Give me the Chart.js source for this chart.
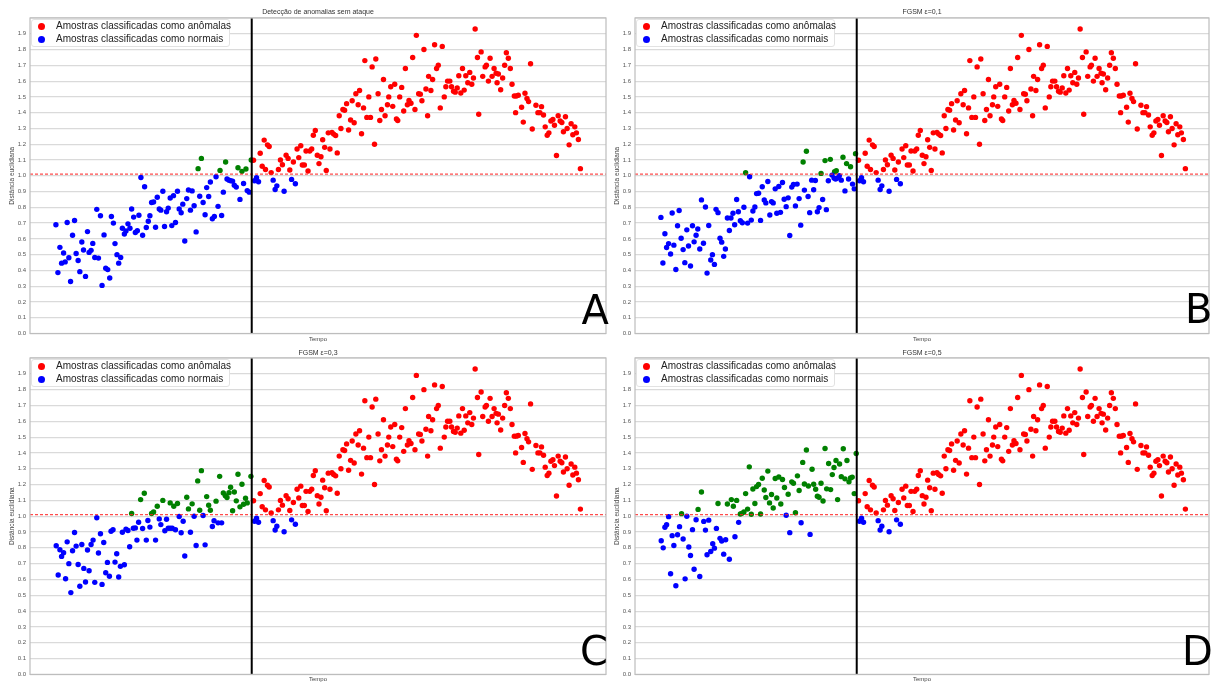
<!DOCTYPE html>
<html><head><meta charset="utf-8">
<script src="https://cdn.jsdelivr.net/npm/chart.js@4.4.1/dist/chart.umd.min.js"></script>
<style>
html,body{margin:0;padding:0;background:#fff;width:1213px;height:682px;overflow:hidden;}
canvas{position:absolute;}
.legend{position:absolute;background:#fff;border:1px solid #e2e2e2;border-radius:3px;box-sizing:border-box;font:10px "Liberation Sans",Arial,sans-serif;color:#222;}
.legend .txt{position:absolute;white-space:nowrap;line-height:12px;}
.legend .dot{position:absolute;width:7px;height:7px;border-radius:50%;}
.letter{position:absolute;font:40px "DejaVu Sans",sans-serif;line-height:40px;color:#000;}
</style></head><body>
<script>
// ---------- DATA ----------
const tempoCorte = 196.5;      // instante da linha vertical
const limiar = 1.01;           // limiar de anomalia (linha tracejada)
const rotulosY = ['0.0','0.1','0.2','0.3','0.4','0.5','0.6','0.7','0.8','0.9','1.0','1.1','1.2','1.3','1.4','1.5','1.6','1.7','1.8','1.9'];
const legendaAnomalas = 'Amostras classificadas como anômalas';
const legendaNormais = 'Amostras classificadas como normais';
const titulos = ['Detecção de anomalias sem ataque','FGSM ε=0,1','FGSM ε=0,3','FGSM ε=0,5'];
const letras = ['A','B','C','D'];

// amostras anômalas (após o corte) - iguais nos quatro painéis
const anomalias = [
[198.3,1.098],[205,1.143],[207,1.06],[209,1.226],[210.3,1.04],[212.3,1.196],[214,1.185],[216,1.02],[223.3,1.04],
[225.3,1.10],[227.3,1.07],[231,1.13],[233,1.11],[234.7,1.036],[238.3,1.087],[242,1.17],[243.7,1.115],[245.7,1.19],
[247.3,1.068],[249.3,1.068],[251,1.157],[253,1.03],[254.7,1.157],[256.7,1.17],[258.3,1.257],[260.3,1.287],[262.3,1.13],
[264,1.077],[266,1.12],[267.7,1.228],[269.7,1.18],[271.3,1.034],[273.3,1.272],[275,1.17],[277,1.275],[278.7,1.264],
[280.7,1.255],[282.3,1.145],[284.3,1.38],[286,1.30],[288,1.42],[289.7,1.415],[291.7,1.457],[293.7,1.29],[295.7,1.353],
[297.3,1.475],[299.3,1.336],[301,1.52],[303.3,1.45],[304.7,1.54],[306.7,1.266],[308.7,1.43],[310,1.73],[312,1.37],
[314,1.50],[315.7,1.37],[317.3,1.69],[319.7,1.20],[321,1.74],[323.3,1.52],[325,1.35],[326.7,1.42],[328.7,1.61],
[330.3,1.38],[332.7,1.45],[334,1.50],[336,1.564],[338,1.44],[340,1.58],[341.7,1.36],[343,1.35],[345,1.50],[347,1.56],
[349,1.41],[350.7,1.68],[352.7,1.45],[354.3,1.477],[356.3,1.46],[358,1.75],[360.3,1.42],[361.7,1.89],[364,1.52],
[365.7,1.517],[367.3,1.475],[369.3,1.80],[371.3,1.55],[373,1.38],[374,1.63],[376.3,1.54],[378,1.61],[380,1.83],
[382,1.68],[383.7,1.70],[385.7,1.43],[387.7,1.82],[389.7,1.50],[391.3,1.564],[393,1.60],[395.3,1.60],[397,1.564],
[399,1.536],[400.7,1.53],[402.7,1.557],[404.3,1.634],[406.3,1.525],[408,1.68],[409.7,1.543],[411.3,1.634],[413.3,1.59],
[415.3,1.655],[417.3,1.58],[419,1.62],[420.7,1.93],[423,1.75],[424.3,1.39],[426.7,1.785],[428.3,1.63],[430.7,1.69],
[432,1.70],[434,1.60],[435.7,1.745],[437.7,1.63],[439.7,1.68],[441.7,1.65],[442.7,1.59],[444,1.645],[446.3,1.545],
[448.3,1.62],[450.3,1.70],[452,1.78],[454,1.745],[456,1.68],[457.7,1.58],[460,1.506],[461.3,1.40],[462,1.506],
[464,1.51],[467.3,1.434],[469,1.34],[470.7,1.523],[472.7,1.49],[474.3,1.47],[476.3,1.71],[478,1.296],[481.7,1.447],
[483.7,1.40],[485.7,1.40],[487.3,1.438],[489.3,1.385],[491,1.31],[493,1.257],[494.7,1.272],[496.7,1.347],[498.7,1.357],
[500.3,1.32],[502.3,1.128],[504,1.38],[506,1.347],[507.7,1.338],[509.3,1.279],[511.3,1.374],[513,1.30],[515,1.196],
[517,1.33],[518.7,1.26],[520.7,1.31],[522.3,1.272],[524.3,1.23],[526.3,1.045]
];
// amostras normais após o corte - iguais nos quatro painéis
const normaisPosCorte = [[199.3,0.968],[201.3,0.987],[203.3,0.962],[218,0.972],[220,0.913],[221.7,0.936],[229,0.902],[236.5,0.977],[240.3,0.949]];

// painel A - sem ataque
const normaisA = [
[0,0.689],[2,0.386],[4,0.546],[5.7,0.446],[7.7,0.51],[9.3,0.454],[11.3,0.704],[13,0.48],[14.7,0.33],[16.7,0.623],
[18.7,0.716],[20.3,0.507],[22.3,0.463],[24,0.392],[26,0.58],[27.7,0.529],[29.7,0.362],[31.7,0.646],[33.3,0.514],
[35.3,0.527],[37,0.571],[39,0.482],[41,0.787],[42.7,0.478],[44.7,0.746],[46.3,0.305],[48.3,0.625],[50,0.414],[52,0.405],
[54,0.352],[55.7,0.742],[57.7,0.70],[59.3,0.57],[61.3,0.50],[63,0.446],[65,0.482],[66.7,0.667],[68.7,0.631],[70.3,0.65],
[72.3,0.695],[74.3,0.667],[76,0.789],[78,0.738],[79.7,0.64],[81.7,0.652],[83.3,0.75],[85.3,0.989],[87,0.623],[89,0.93],
[90.7,0.672],[92.7,0.712],[94.3,0.746],[96,0.83],[98,0.834],[100,0.674],[101.7,0.864],[103.7,0.79],[105.3,0.782],
[107.3,0.902],[109,0.678],[111,0.772],[112.7,0.795],[114.7,0.859],[116.3,0.684],[118,0.874],[120,0.704],[122,0.902],
[123.7,0.79],[125.7,0.765],[127.3,0.82],[129.3,0.586],[131.3,0.855],[133,0.91],[135,0.782],[136.7,0.904],[138.7,0.81],
[140.7,0.644],[144.3,0.87],[147.7,0.83],[149.7,0.753],[151.3,0.925],[153.3,0.868],[155,0.96],[157,0.727],[159,0.742],
[160.7,0.994],[162.7,0.806],[166.3,0.748],[168,0.896],[171.7,0.979],[173.7,0.972],[175.3,0.968],[177.3,0.966],[179,0.94],
[181,0.928],[184.7,0.85],[188.3,0.951],[192,0.906],[194,0.896]
];
const acimaLimiarA = [[142.7,1.045],[146,1.11],[164.7,1.034],[170.3,1.087],[182.7,1.051],[186.7,1.028],[190.7,1.043],[196,1.10]];

// painel B - FGSM e=0,1
const normaisB = [
[0,0.736],[2,0.447],[4,0.632],[5.7,0.545],[7.7,0.57],[9.7,0.504],[11.3,0.764],[13,0.56],[15,0.406],[16.7,0.683],
[18.3,0.78],[20.3,0.604],[22.3,0.532],[24,0.449],[26,0.657],[27.7,0.555],[29.7,0.428],[31.7,0.683],[33.3,0.581],
[35.3,0.623],[37,0.662],[39,0.536],[40.7,0.847],[42.7,0.572],[44.7,0.802],[46.3,0.383],[48,0.685],[50,0.466],[51.7,0.50],
[53.7,0.438],[55.3,0.787],[57.3,0.766],[59.3,0.604],[61,0.579],[63,0.489],[64.7,0.536],[66.7,0.732],[68.7,0.653],
[70.3,0.732],[72.3,0.762],[74,0.689],[76,0.849],[77.7,0.772],[79.7,0.715],[81.7,0.702],[83.3,0.80],[87,0.70],[89,0.994],
[90.7,0.719],[92.3,0.777],[94.3,0.802],[96,0.887],[98,0.889],[100,0.717],[101.7,0.93],[103.7,0.847],[105.3,0.828],
[107.3,0.964],[109.3,0.751],[111,0.836],[112.7,0.828],[114.7,0.917],[116.3,0.762],[118.3,0.932],[120,0.768],[122,0.957],
[123.7,0.851],[125.7,0.804],[127.7,0.86],[129.3,0.621],[131.3,0.928],[133,0.945],[135,0.809],[136.7,0.947],[138.7,0.855],
[140.3,0.687],[144,0.909],[147.7,0.868],[149.3,0.766],[151.3,0.972],[153.3,0.911],[155,0.97],[157,0.772],[158.7,0.798],
[162.3,0.849],[166,0.785],[168,0.968],[171.7,1.004],[173.7,0.985],[175.3,0.979],[177,0.985],[179,1.0],[181,0.972],
[184.7,0.904],[188.3,0.979],[192.3,0.947],[194,0.917]
];
const acimaLimiarB = [[85,1.019],[142.7,1.087],[146,1.155],[160.7,1.015],[164.7,1.096],[170,1.104],[174.3,1.026],[176,1.032],[182.7,1.117],[186.3,1.077],[190.3,1.057],[195.3,1.14]];

// painel C - FGSM e=0,3
const normaisC = [
[0.3,0.813],[2.3,0.628],[4,0.788],[5.7,0.746],[7.7,0.769],[9.7,0.605],[11.3,0.838],[13,0.70],[15,0.517],[16.7,0.782],
[18.7,0.897],[20.3,0.811],[22.3,0.695],[24,0.557],[26,0.821],[28,0.67],[29.7,0.584],[31.7,0.786],[33.3,0.655],[35.3,0.821],
[37.3,0.849],[39,0.582],[41,0.99],[42.7,0.767],[44.7,0.889],[46.3,0.569],[48,0.834],[50,0.643],[51.7,0.708],[53.7,0.62],
[55.3,0.905],[57.3,0.914],[59.3,0.71],[61,0.763],[63,0.616],[64.7,0.683],[66.7,0.899],[68.7,0.693],[70.3,0.918],[72.3,0.91],
[74,0.807],[77.7,0.924],[79.7,0.926],[81.3,0.849],[83,0.962],[87,0.922],[90.7,0.849],[92.3,0.973],[94.3,0.931],[100,0.849],
[103.7,0.983],[105.3,0.947],[109.3,0.908],[111,0.981],[112.7,0.924],[114.7,0.924],[116.7,0.924],[120,0.914],[123.7,0.998],
[125.7,0.895],[127.7,0.968],[129.3,0.748],[135,0.899],[138.7,1.0],[140.7,0.815],[147.7,1.004],[149.7,0.819],[157,0.935],
[158.7,0.971],[162.7,0.958],[166.3,0.958]
];
const acimaLimiarC = [
[76,1.017],[85,1.105],[88.7,1.145],[96,1.017],[98,1.027],[101.7,1.063],[107.3,1.10],[114.7,1.084],[118.3,1.063],[122,1.08],
[131.3,1.12],[133,1.046],[136.7,1.078],[142.3,1.223],[144.3,1.038],[146,1.288],[151.3,1.124],[153.3,1.069],[155,1.038],
[160.7,1.095],[164.3,1.252],[168,1.147],[170,1.13],[171.7,1.118],[173.7,1.149],[175.3,1.183],[177.3,1.034],[179,1.153],
[181,1.097],[182.7,1.265],[184.7,1.059],[186.7,1.202],[188.3,1.076],[190.3,1.113],[192,1.084],[195.7,1.252]
];

// painel D - FGSM e=0,5
const normaisD = [
[0.3,0.845],[2.3,0.80],[4,0.93],[5.7,0.946],[7.7,0.997],[9.7,0.636],[11.3,0.877],[13,0.815],[15,0.56],[16.7,0.883],
[18.7,0.934],[22.3,0.856],[24.3,0.604],[26,1.0],[28,0.805],[29.7,0.752],[31.7,0.915],[33.3,0.665],[35.3,0.978],[39,0.619],
[43,0.967],[44.7,0.912],[46.3,0.756],[48,0.975],[50,0.777],[52,0.826],[53.7,0.798],[55.7,0.923],[59.3,0.86],[61,0.843],
[63,0.76],[65,0.851],[68.7,0.728],[74.3,0.87],[78,0.961],[125.7,1.006],[129.3,0.896],[140.7,0.959],[149.7,0.885]
];
const acimaLimiarD = [
[20.7,1.016],[37.3,1.043],[40.7,1.153],[57.3,1.08],[66.7,1.077],[70.7,1.105],[72.7,1.063],[76,1.10],[79.7,1.014],[81.3,1.018],
[83.3,1.027],[85,1.143],[87,1.045],[88.7,1.312],[90.7,1.012],[92.3,1.172],[94.3,1.08],[96,1.187],[98,1.20],[100,1.014],
[101.7,1.24],[103.7,1.166],[105.3,1.118],[107.3,1.285],[109,1.084],[111,1.137],[112.7,1.052],[114.7,1.238],[116.3,1.115],
[118.3,1.248],[120.3,1.077],[122,1.232],[124,1.181],[127.7,1.139],[131.3,1.217],[133,1.208],[135,1.022],[137,1.255],
[138.7,1.162],[142.3,1.34],[144,1.204],[146,1.418],[148,1.191],[151.7,1.297],[153.3,1.202],[155.3,1.17],[157,1.126],
[158.7,1.12],[160.7,1.208],[162.7,1.096],[164.7,1.428],[166.3,1.173],[168.3,1.333],[170.3,1.168],[172,1.263],[173.7,1.308],
[175.7,1.352],[177.3,1.105],[179.3,1.33],[181,1.25],[183,1.426],[184.7,1.236],[186.7,1.352],[188.7,1.217],[190.3,1.242],
[192,1.247],[194,1.143],[196,1.396]
];

// ---------- LAYOUT ----------
const paineis = [
 {left:0,   top:0,   w:610, h:345, area:{l:30,t:18,r:608,b:333.5}, tPad:[8,1.6],   xPad:3, normais:normaisA, acima:acimaLimiarA, letra:[581.5,290]},
 {left:605, top:0,   w:608, h:345, area:{l:30,t:18,r:606,b:333.5}, tPad:[8,1.6],   xPad:3, normais:normaisB, acima:acimaLimiarB, letra:[1185,289]},
 {left:0,   top:341, w:610, h:341, area:{l:30,t:17,r:608,b:333.5}, tPad:[7.5,1.1], xPad:0, normais:normaisC, acima:acimaLimiarC, letra:[580,631]},
 {left:605, top:341, w:608, h:341, area:{l:30,t:17,r:606,b:333.5}, tPad:[7.5,1.1], xPad:0, normais:normaisD, acima:acimaLimiarD, letra:[1182,631]}
];

const FONT = '"Liberation Sans", Arial, sans-serif';
const pts = a => a.map(([x,y]) => ({x, y}));

const moldura = {
  id:'moldura',
  afterDraw(chart){
    const {ctx, chartArea:a} = chart;
    ctx.save();
    ctx.strokeStyle = '#bdbdbd';
    ctx.lineWidth = 1.2;
    ctx.strokeRect(a.left, a.top, a.right - a.left, a.bottom - a.top);
    ctx.restore();
  }
};

paineis.forEach((p, i) => {
  const cv = document.createElement('canvas');
  cv.width = p.w; cv.height = p.h;
  cv.style.left = p.left + 'px'; cv.style.top = p.top + 'px';
  cv.style.width = p.w + 'px'; cv.style.height = p.h + 'px';
  document.body.appendChild(cv);

  const xmin = -26, xmax = p.area.r - p.area.l - 26;
  const ptR = 2.7;

  new Chart(cv.getContext('2d'), {
    type: 'scatter',
    data: { datasets: [
      {label:'corte', data: pts([[tempoCorte,0],[tempoCorte,2]]), showLine:true, borderColor:'#000', borderWidth:2, pointRadius:0, order:0},
      {label:'limiar', data: pts([[xmin,limiar],[xmax,limiar]]), showLine:true, borderColor:'rgba(255,30,30,0.8)', borderWidth:1.1, borderDash:[3,2], pointRadius:0, order:1},
      {label:legendaAnomalas, data: pts(anomalias), backgroundColor:'#ff0000', borderWidth:0, pointRadius:ptR, order:2},
      {label:legendaNormais, data: pts(p.normais.concat(normaisPosCorte)), backgroundColor:'#0000ff', borderWidth:0, pointRadius:ptR, order:3},
      {label:'acima do limiar', data: pts(p.acima), backgroundColor:'#008000', borderWidth:0, pointRadius:ptR, order:4}
    ]},
    options: {
      responsive:false, animation:false, devicePixelRatio:1,
      layout:{ padding:{left:0, top:0, right:p.w - p.area.r, bottom:0} },
      plugins:{
        legend:{display:false}, tooltip:{enabled:false},
        title:{display:true, text:titulos[i], fullSize:false, color:'#333',
               font:{family:FONT, size:7, weight:'normal', lineHeight:1.2}, padding:{top:p.tPad[0], bottom:p.tPad[1]}}
      },
      scales:{
        x:{ type:'linear', min:xmin, max:xmax,
            ticks:{display:false}, grid:{display:false}, border:{display:false},
            title:{display:true, text:'Tempo', color:'#444', font:{family:FONT, size:6, lineHeight:1}, padding:{top:0, bottom:p.xPad}},
            afterFit: s => { s.height = p.h - p.area.b; } },
        y:{ type:'linear', min:0, max:2.0,
            ticks:{stepSize:0.1, padding:4, color:'#555', font:{family:FONT, size:6},
                   callback:(v) => { const k = Math.round(v*10); return k < rotulosY.length ? rotulosY[k] : ''; }},
            grid:{color:'#dadada', lineWidth:1.2, drawTicks:false},
            border:{display:false},
            title:{display:true, text:'Distância euclidiana', color:'#444', font:{family:FONT, size:6.5, lineHeight:1}, padding:{top:8.7, bottom:0}},
            afterFit: s => { s.width = p.area.l; } }
      }
    },
    plugins:[moldura]
  });

  // legenda
  const lg = document.createElement('div');
  lg.className = 'legend';
  lg.style.left = (p.left + p.area.l + 1) + 'px';
  lg.style.top = (p.top + p.area.t + 0.5) + 'px';
  lg.style.width = '199px'; lg.style.height = '28px';
  [[legendaAnomalas,'#ff0000',6.5],[legendaNormais,'#0000ff',19.5]].forEach(([t,c,y]) => {
    const d = document.createElement('div'); d.className='dot'; d.style.background=c;
    d.style.left='5.5px'; d.style.top=(y-3.5)+'px'; lg.appendChild(d);
    const s = document.createElement('div'); s.className='txt'; s.textContent=t;
    s.style.left='24px'; s.style.top=(y-6)+'px'; lg.appendChild(s);
  });
  document.body.appendChild(lg);

  const L = document.createElement('div');
  L.className = 'letter'; L.textContent = letras[i];
  L.style.left = p.letra[0] + 'px'; L.style.top = p.letra[1] + 'px';
  document.body.appendChild(L);
});
</script>
</body></html>
